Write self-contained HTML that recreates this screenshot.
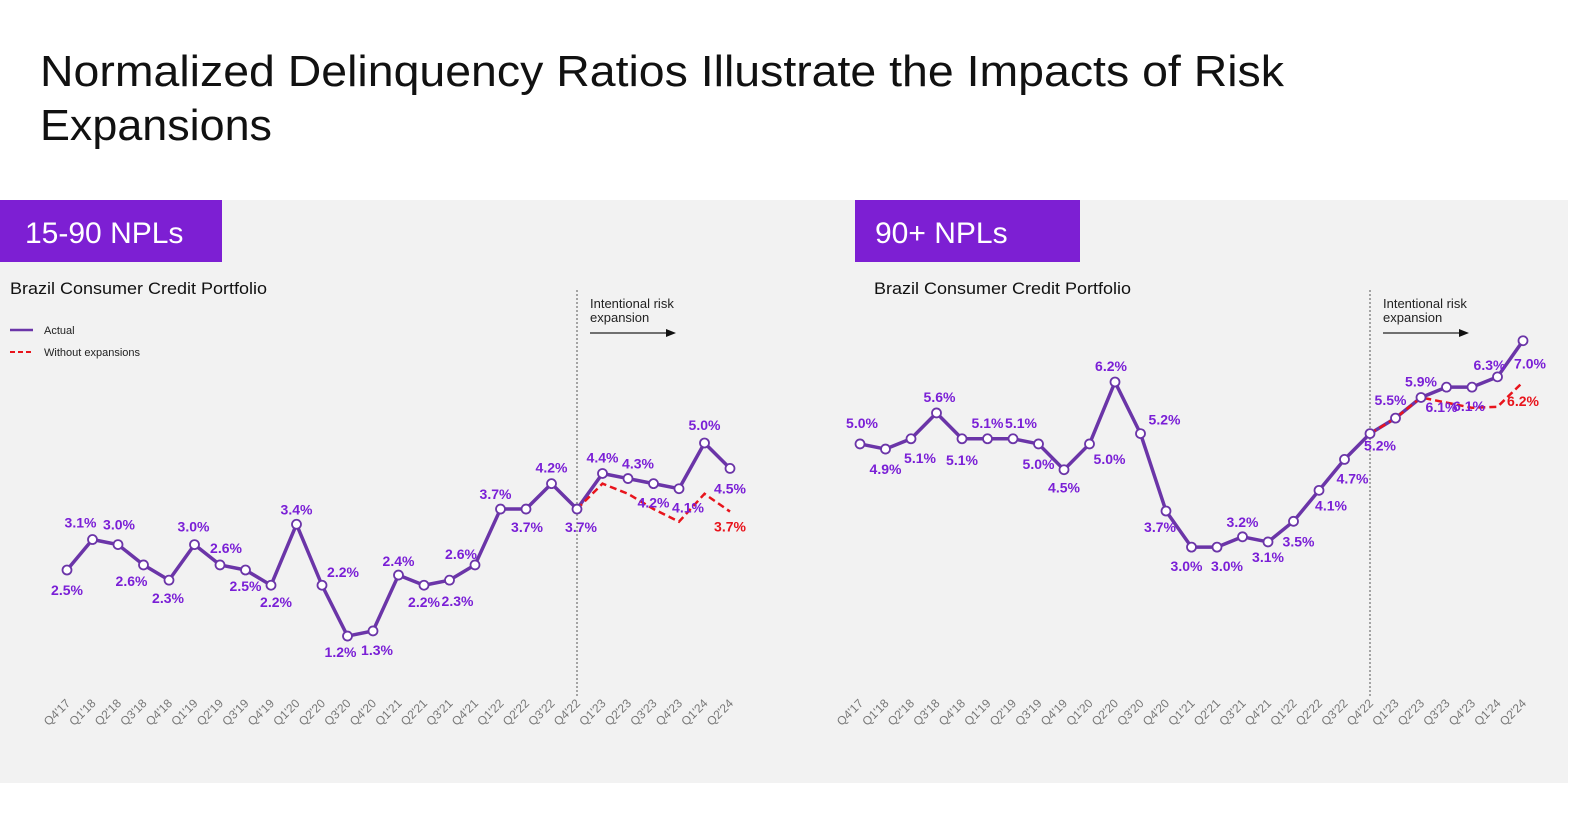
<!DOCTYPE html>
<html><head><meta charset="utf-8"><style>
html,body{margin:0;padding:0;background:#fff;}
svg{display:block;font-family:"Liberation Sans",sans-serif;}
</style></head><body>
<svg id="svg" width="1584" height="837" viewBox="0 0 1584 837">
<rect x="0" y="0" width="1584" height="837" fill="#fff"/>
<text x="40" y="86" font-size="44" fill="#111" textLength="1244" lengthAdjust="spacingAndGlyphs">Normalized Delinquency Ratios Illustrate the Impacts of Risk</text>
<text x="40" y="140" font-size="44" fill="#111" textLength="232" lengthAdjust="spacingAndGlyphs">Expansions</text>
<rect x="0" y="200" width="1568" height="583" fill="#f2f2f2"/>
<rect x="0" y="200" width="222" height="62" fill="#7d1fd3"/>
<text x="25" y="243" font-size="30" fill="#fff">15-90 NPLs</text>
<rect x="855" y="200" width="225" height="62" fill="#7d1fd3"/>
<text x="875" y="243" font-size="30" fill="#fff">90+ NPLs</text>
<text x="10" y="294" font-size="17" fill="#111" textLength="257" lengthAdjust="spacingAndGlyphs">Brazil Consumer Credit Portfolio</text>
<text x="874" y="294" font-size="17" fill="#111" textLength="257" lengthAdjust="spacingAndGlyphs">Brazil Consumer Credit Portfolio</text>
<g>
<line x1="10" y1="330" x2="33" y2="330" stroke="#6b35a8" stroke-width="2.5"/>
<text x="44" y="334" font-size="11" fill="#222">Actual</text>
<line x1="10" y1="352" x2="34" y2="352" stroke="#e8141c" stroke-width="2" stroke-dasharray="5,3"/>
<text x="44" y="356" font-size="11" fill="#222">Without expansions</text>
</g>
<g id="left"></g>
<g id="right"></g>
</svg>
<script>
const categories=["Q4'17","Q1'18","Q2'18","Q3'18","Q4'18","Q1'19","Q2'19","Q3'19","Q4'19","Q1'20","Q2'20","Q3'20","Q4'20","Q1'21","Q2'21","Q3'21","Q4'21","Q1'22","Q2'22","Q3'22","Q4'22","Q1'23","Q2'23","Q3'23","Q4'23","Q1'24","Q2'24"];
const leftActual=[2.5,3.1,3.0,2.6,2.3,3.0,2.6,2.5,2.2,3.4,2.2,1.2,1.3,2.4,2.2,2.3,2.6,3.7,3.7,4.2,3.7,4.4,4.3,4.2,4.1,5.0,4.5];
const leftWithout=[3.7,4.2,4.0,3.7,3.45,4.0,3.65];
const leftWithoutLabel="3.7%";
const rightActual=[5.0,4.9,5.1,5.6,5.1,5.1,5.1,5.0,4.5,5.0,6.2,5.2,3.7,3.0,3.0,3.2,3.1,3.5,4.1,4.7,5.2,5.5,5.9,6.1,6.1,6.3,7.0];
const rightWithout=[5.2,5.5,5.9,5.8,5.7,5.72,6.2];
const rightWithoutLabel="6.2%";
const expansionStart=20;
const leftLabelOff=[[0,20],[-12,-17],[1,-20],[-12,16],[-1,18],[-1,-18],[6,-17],[0,16],[5,17],[0,-15],[21,-13],[-7,16],[4,19],[0,-14],[0,17],[8,21],[-14,-11],[-5,-15],[1,18],[0,-16],[4,18],[0,-16],[10,-15],[0,19],[9,19],[0,-18],[0,20]];
const rightLabelOff=[[2,-21],[0,20],[9,19],[3,-16],[0,21],[0,-16],[8,-16],[0,20],[0,18],[20,15],[-4,-16],[24,-14],[-6,16],[-5,19],[10,19],[0,-15],[0,15],[5,20],[12,15],[8,19],[10,12],[-5,-18],[0,-16],[-5,20],[-3,19],[-8,-12],[7,23]];
const NS="http://www.w3.org/2000/svg";
function mk(tag,attrs,parent){const e=document.createElementNS(NS,tag);for(const k in attrs)e.setAttribute(k,attrs[k]);parent.appendChild(e);return e;}
function draw(g,x0,step,yRef,vRef,ppu,actual,without,wLabel,offs,wLabelDy){
  const xs=i=>x0+i*step, ys=v=>yRef+(vRef-v)*ppu;
  const vx=xs(expansionStart);
  const vl=mk('line',{x1:vx,y1:290,x2:vx,y2:696,stroke:'#555','stroke-width':1,'stroke-dasharray':'2,2'},g);
  
  
  const a1=mk('text',{x:vx+13,y:308,'font-size':13,fill:'#222'},g);a1.textContent='Intentional risk';
  
  
  const a2=mk('text',{x:vx+13,y:322,'font-size':13,fill:'#222'},g);a2.textContent='expansion';
  
  
  const ar=mk('line',{x1:vx+13,y1:333,x2:vx+90,y2:333,stroke:'#222','stroke-width':1.2},g);
  
  
  const ah=mk('polygon',{points:`${vx+99},333 ${vx+89},329 ${vx+89},337`,fill:'#111'},g);
  
  
  const pl=mk('polyline',{points:actual.map((v,i)=>xs(i)+','+ys(v)).join(' '),fill:'none',stroke:'#6b35a8','stroke-width':3.5,'stroke-linejoin':'round'},g);
  
  
  const rl=mk('polyline',{points:without.map((v,i)=>xs(expansionStart+i)+','+ys(v)).join(' '),fill:'none',stroke:'#e8141c','stroke-width':2.5,'stroke-dasharray':'7,4'},g);
  
  
  actual.forEach((v,i)=>{
    const c=mk('circle',{cx:xs(i),cy:ys(v),r:4.5,fill:'#fff',stroke:'#6b35a8','stroke-width':1.8},g);
    
    
    const t=mk('text',{x:xs(i)+offs[i][0],y:ys(v)+offs[i][1]+5,'font-size':14,'font-weight':'bold','text-anchor':'middle',fill:'#7a1fd6'},g);
    t.textContent=v.toFixed(1)+'%';
    
    
    const xl=mk('text',{x:xs(i)+4,y:704,'font-size':12,'text-anchor':'end',fill:'#777',transform:`rotate(-45 ${xs(i)+4} 704)`},g);
    xl.textContent=categories[i];
    
    
  });
  const li=without.length-1;
  const rt=mk('text',{x:xs(expansionStart+li),y:ys(without[li])+wLabelDy+5,'font-size':14,'font-weight':'bold','text-anchor':'middle',fill:'#e8141c'},g);
  rt.textContent=wLabel;
  
  
}
draw(document.getElementById('left'),67,25.5,443,5.0,50.8,leftActual,leftWithout,leftWithoutLabel,leftLabelOff,15);
draw(document.getElementById('right'),860,25.5,382,6.2,51.6,rightActual,rightWithout,rightWithoutLabel,rightLabelOff,19);
</script>
</body></html>
